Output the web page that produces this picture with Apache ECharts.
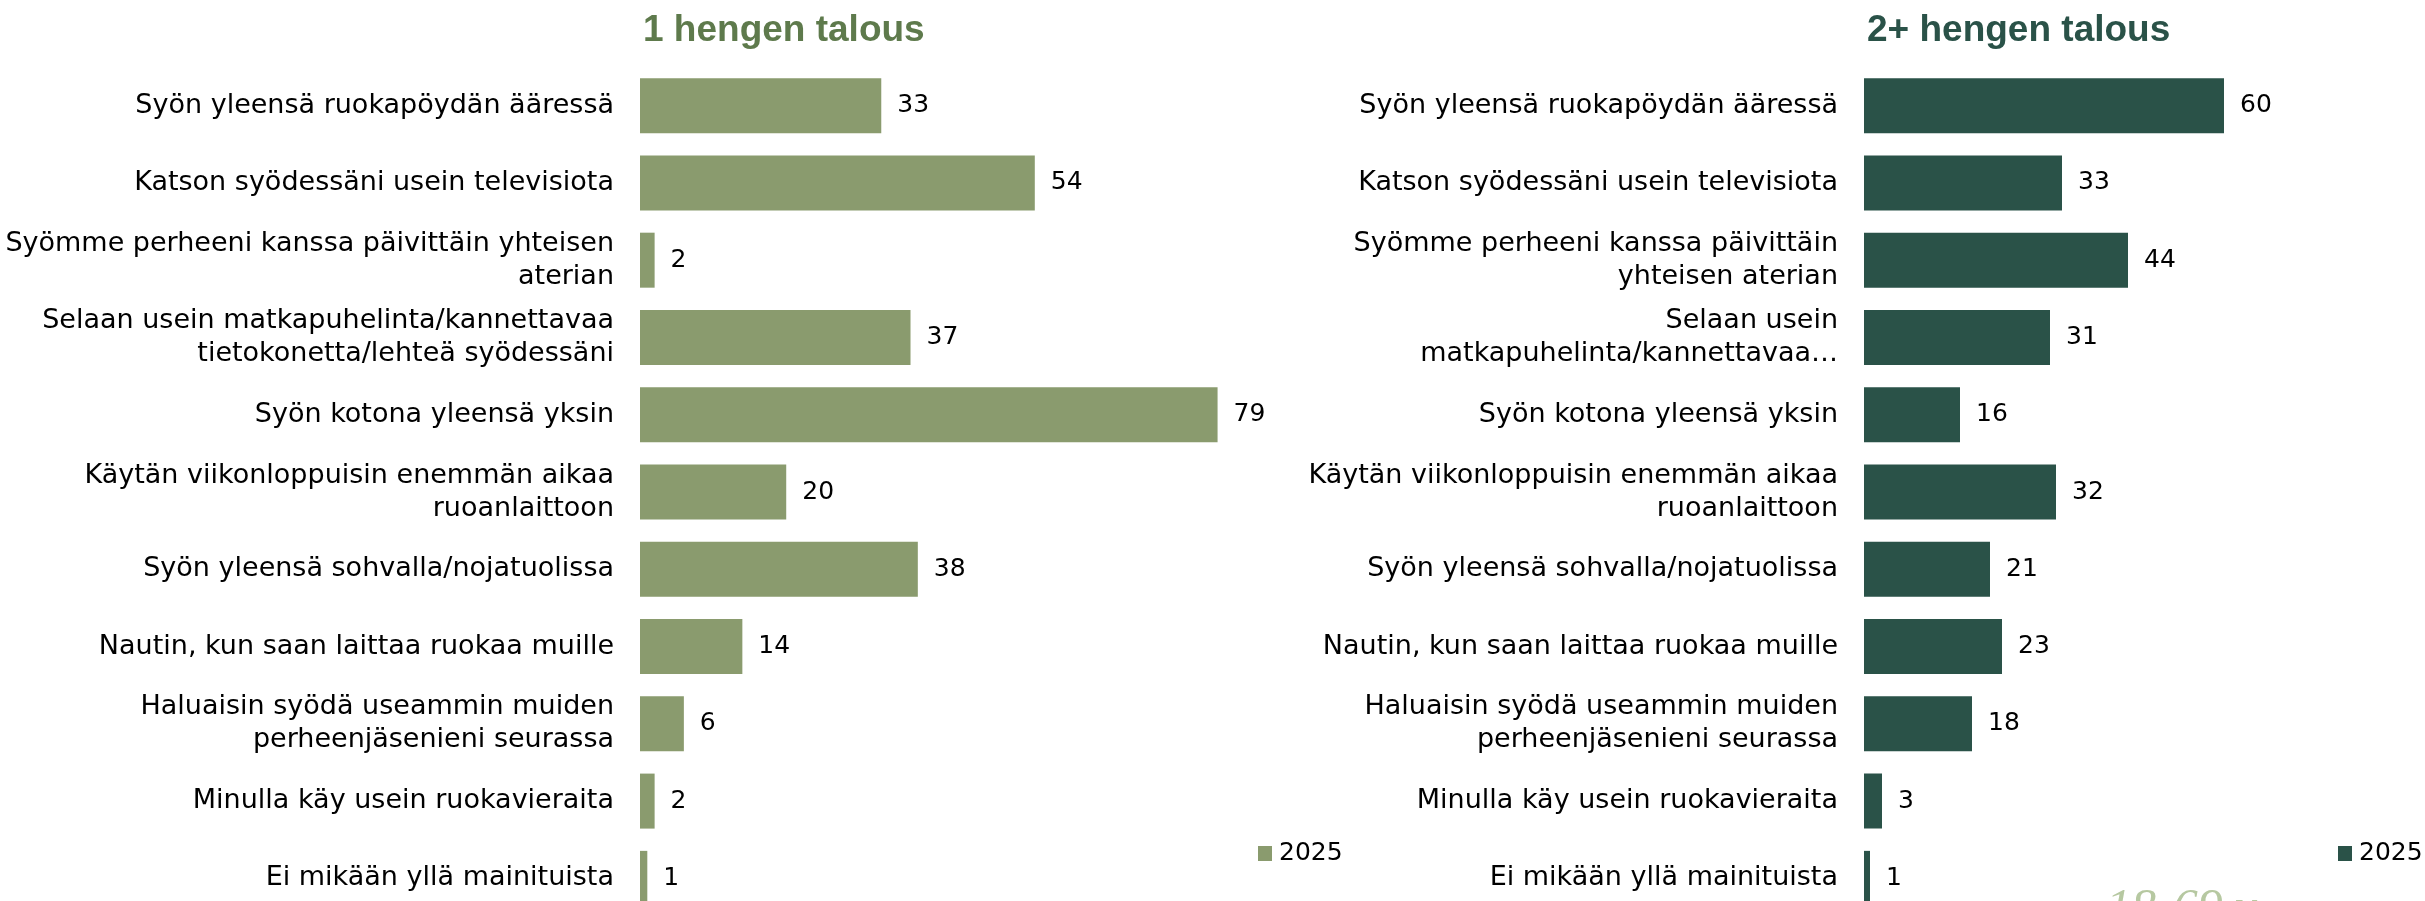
<!DOCTYPE html>
<html>
<head>
<meta charset="utf-8">
<style>
  html, body { margin: 0; padding: 0; background: #ffffff; overflow: hidden; }
  #chart { width: 2425px; height: 940px; }
</style>
<script src="https://cdn.jsdelivr.net/npm/echarts@6/dist/echarts.min.js"></script>
</head>
<body>
<div id="chart"></div>
<script>
// ---- Data ----
const categories = [
  'Syön yleensä ruokapöydän ääressä',
  'Katson syödessäni usein televisiota',
  'Syömme perheeni kanssa päivittäin yhteisen aterian',
  'Selaan usein matkapuhelinta/kannettavaa tietokonetta/lehteä syödessäni',
  'Syön kotona yleensä yksin',
  'Käytän viikonloppuisin enemmän aikaa ruoanlaittoon',
  'Syön yleensä sohvalla/nojatuolissa',
  'Nautin, kun saan laittaa ruokaa muille',
  'Haluaisin syödä useammin muiden perheenjäsenieni seurassa',
  'Minulla käy usein ruokavieraita',
  'Ei mikään yllä mainituista'
];
// Tick labels as wrapped in each panel
const leftTickLabels = [
  'Syön yleensä ruokapöydän ääressä',
  'Katson syödessäni usein televisiota',
  'Syömme perheeni kanssa päivittäin yhteisen\naterian',
  'Selaan usein matkapuhelinta/kannettavaa\ntietokonetta/lehteä syödessäni',
  'Syön kotona yleensä yksin',
  'Käytän viikonloppuisin enemmän aikaa\nruoanlaittoon',
  'Syön yleensä sohvalla/nojatuolissa',
  'Nautin, kun saan laittaa ruokaa muille',
  'Haluaisin syödä useammin muiden\nperheenjäsenieni seurassa',
  'Minulla käy usein ruokavieraita',
  'Ei mikään yllä mainituista'
];
const rightTickLabels = [
  'Syön yleensä ruokapöydän ääressä',
  'Katson syödessäni usein televisiota',
  'Syömme perheeni kanssa päivittäin\nyhteisen aterian',
  'Selaan usein\nmatkapuhelinta/kannettavaa…',
  'Syön kotona yleensä yksin',
  'Käytän viikonloppuisin enemmän aikaa\nruoanlaittoon',
  'Syön yleensä sohvalla/nojatuolissa',
  'Nautin, kun saan laittaa ruokaa muille',
  'Haluaisin syödä useammin muiden\nperheenjäsenieni seurassa',
  'Minulla käy usein ruokavieraita',
  'Ei mikään yllä mainituista'
];
const singleHousehold = [33, 54, 2, 37, 79, 20, 38, 14, 6, 2, 1];
const multiHousehold  = [60, 33, 44, 31, 16, 32, 21, 23, 18, 3, 1];
const panelTitles = ['1 hengen talous', '2+ hengen talous'];
const seriesNames = ['1 hengen talous 2025', '2+ hengen talous 2025'];
const legendLabel = '2025';
const watermark = '18-69 v';

// ---- Styles ----
const labelFont = '"DejaVu Sans", Verdana, sans-serif';
const titleFont = '"Liberation Sans", Arial, sans-serif';
const colLeft = '#8a9b6e';
const colRight = '#2a5248';

const chart = echarts.init(document.getElementById('chart'), null, { renderer: 'canvas' });

const catAxis = (gridIndex, labels) => ({
  type: 'category',
  gridIndex,
  data: categories,
  inverse: true,
  axisLine: { show: false },
  axisTick: { show: false },
  axisLabel: {
    margin: 26,
    color: '#000000',
    fontFamily: labelFont,
    fontSize: 27,
    lineHeight: 33,
    align: 'right',
    formatter: (v, i) => labels[i]
  }
});

const valLabel = {
  show: true,
  position: 'right',
  distance: 16,
  color: '#000000',
  fontFamily: labelFont,
  fontSize: 25
};

chart.setOption({
  animation: false,
  backgroundColor: '#ffffff',
  title: [
    { text: panelTitles[0], left: 638, top: 7,
      textStyle: { fontFamily: titleFont, fontWeight: 'bold', fontSize: 37, color: '#5e7a4c' } },
    { text: panelTitles[1], left: 1862, top: 7,
      textStyle: { fontFamily: titleFont, fontWeight: 'bold', fontSize: 37, color: '#2a5248' } }
  ],
  legend: [
    { data: [seriesNames[0]], left: 1253, top: 836, icon: 'rect', itemWidth: 14, itemHeight: 15,
      formatter: () => legendLabel,
      textStyle: { fontFamily: labelFont, fontSize: 25, color: '#000000', padding: [0, 0, 0, 2] } },
    { data: [seriesNames[1]], left: 2333, top: 836, icon: 'rect', itemWidth: 14, itemHeight: 15,
      formatter: () => legendLabel,
      textStyle: { fontFamily: labelFont, fontSize: 25, color: '#000000', padding: [0, 0, 0, 2] } }
  ],
  grid: [
    { left: 640, top: 67, width: 658, height: 850, containLabel: false },
    { left: 1864, top: 67, width: 420, height: 850, containLabel: false }
  ],
  xAxis: [
    { type: 'value', gridIndex: 0, min: 0, max: 90, show: false },
    { type: 'value', gridIndex: 1, min: 0, max: 70, show: false }
  ],
  yAxis: [catAxis(0, leftTickLabels), catAxis(1, rightTickLabels)],
  series: [
    { name: seriesNames[0], type: 'bar', xAxisIndex: 0, yAxisIndex: 0,
      data: singleHousehold, barWidth: 55, itemStyle: { color: colLeft }, label: valLabel },
    { name: seriesNames[1], type: 'bar', xAxisIndex: 1, yAxisIndex: 1,
      data: multiHousehold, barWidth: 55, itemStyle: { color: colRight }, label: valLabel }
  ],
  graphic: [
    { type: 'text', left: 2106, top: 885, silent: true,
      style: { text: watermark, font: 'italic 50px "Liberation Serif", serif', fill: '#b6c8a1' } }
  ]
});
</script>
</body>
</html>
